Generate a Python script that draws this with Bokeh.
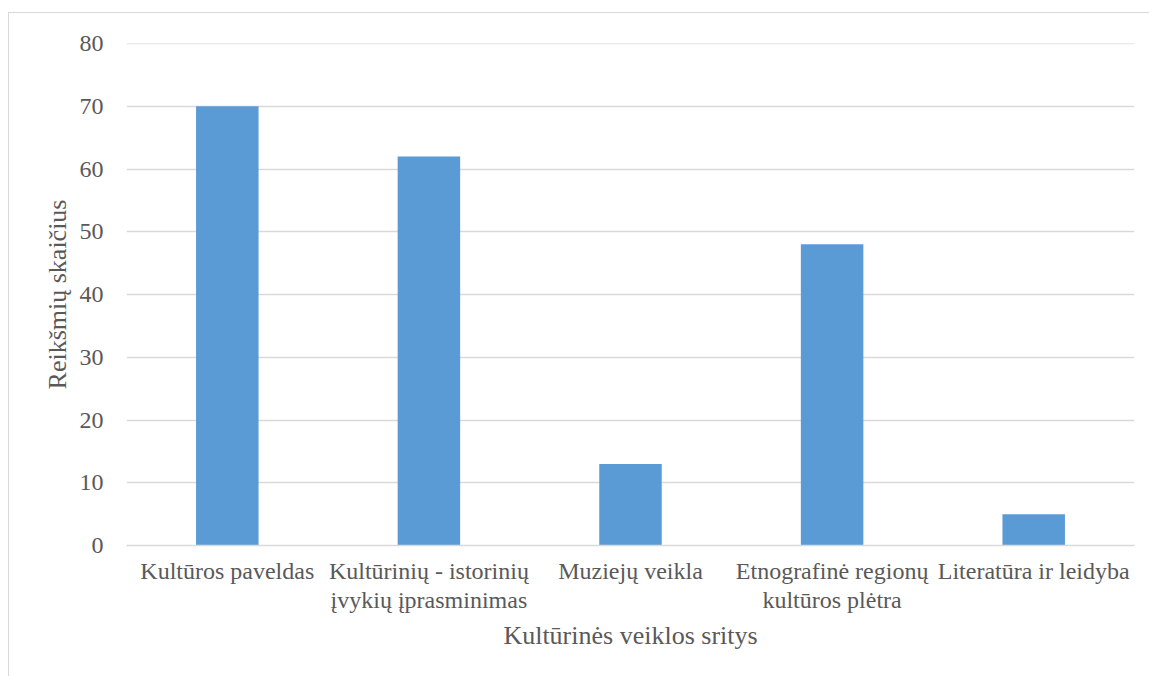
from bokeh.plotting import figure
from bokeh.models import ColumnDataSource, SingleIntervalTicker, FactorRange, Span
from bokeh.embed import file_html
from bokeh.resources import INLINE

categories = ["Kultūros paveldas",
              "Kultūrinių - istorinių\nįvykių įprasminimas",
              "Muziejų veikla",
              "Etnografinė regionų\nkultūros plėtra",
              "Literatūra ir leidyba"]
values = [70, 62, 13, 48, 5]
y_max = 80

FONT = "Liberation Serif"
TXT = "#595959"
GRID = "#d9d9d9"

src = ColumnDataSource(dict(cat=categories, val=values))

p = figure(x_range=FactorRange(*categories, range_padding=0), y_range=(0, y_max),
           width=1141, height=664, output_backend="svg", toolbar_location=None,
           min_border_left=117, min_border_right=16, min_border_top=30, min_border_bottom=132)
p.styles = {"border-left": "1px solid #d9d9d9", "border-top": "1px solid #d9d9d9",
            "margin-top": "12px", "margin-left": "8px"}

p.vbar(x="cat", top="val", width=0.31, source=src, fill_color="#5b9bd5", line_color=None)
p.add_layout(Span(location=y_max, dimension="width", line_color=GRID, line_width=1.5))

p.outline_line_color = None
p.background_fill_color = "white"
p.border_fill_color = "white"

p.yaxis.ticker = SingleIntervalTicker(interval=10)
p.yaxis.axis_line_color = None
p.yaxis.major_tick_line_color = None
p.yaxis.minor_tick_line_color = None
p.yaxis.major_label_standoff = 17
p.yaxis.major_label_text_font = FONT
p.yaxis.major_label_text_font_size = "24px"
p.yaxis.major_label_text_color = TXT
p.yaxis.axis_label = "Reikšmių skaičius"
p.yaxis.axis_label_text_font = FONT
p.yaxis.axis_label_text_font_size = "26px"
p.yaxis.axis_label_text_font_style = "normal"
p.yaxis.axis_label_text_color = TXT
p.yaxis.axis_label_standoff = 5

p.xaxis.axis_line_color = GRID
p.xaxis.axis_line_width = 1.5
p.xaxis.major_tick_line_color = None
p.xaxis.minor_tick_line_color = None
p.xaxis.major_label_standoff = 6
p.xaxis.major_label_text_font = FONT
p.xaxis.major_label_text_font_size = "24px"
p.xaxis.major_label_text_line_height = 1.12
p.xaxis.major_label_text_color = TXT
p.xaxis.major_label_orientation = "horizontal"
p.xaxis.axis_label = "Kultūrinės veiklos sritys"
p.xaxis.axis_label_text_font = FONT
p.xaxis.axis_label_text_font_size = "26px"
p.xaxis.axis_label_text_font_style = "normal"
p.xaxis.axis_label_text_color = TXT
p.xaxis.axis_label_standoff = 5

p.xgrid.grid_line_color = None
p.ygrid.grid_line_color = GRID
p.ygrid.grid_line_width = 1.5

open("out.html", "w").write(file_html(p, INLINE))
